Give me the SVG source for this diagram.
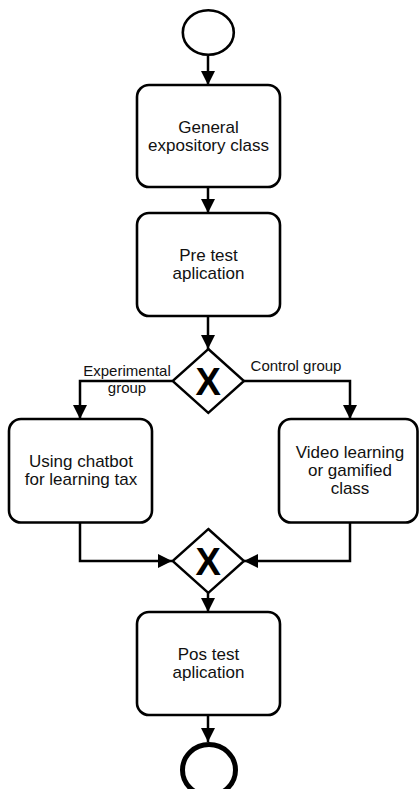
<svg xmlns="http://www.w3.org/2000/svg" width="419" height="789" viewBox="0 0 419 789">
<style>
.box{fill:#fff;stroke:#000;stroke-width:2.6}
.ev{fill:#fff;stroke:#000;stroke-width:2.6}
.end{fill:#fff;stroke:#000;stroke-width:5}
.gw{fill:#fff;stroke:#000;stroke-width:2.4}
.t{font-family:"Liberation Sans",Arial,sans-serif;font-size:17px;fill:#111;text-anchor:middle}
.lbl{font-family:"Liberation Sans",Arial,sans-serif;font-size:15px;fill:#111;text-anchor:middle}
.x{font-family:"Liberation Sans",Arial,sans-serif;font-size:38px;font-weight:bold;fill:#000;text-anchor:middle}
.c{fill:none;stroke:#000;stroke-width:2.5;marker-end:url(#ah)}
</style>
<defs>
<marker id="ah" markerUnits="userSpaceOnUse" markerWidth="14" markerHeight="14" viewBox="0 0 14 14" refX="14" refY="7" orient="auto">
<path d="M0,0 L14,7 L0,14 Z" fill="#000"/>
</marker>
</defs>
<g id="connectors">
<path class="c" d="M208,56 V85"/>
<path class="c" d="M208,187 V213"/>
<path class="c" d="M208,316 V349"/>
<path class="c" d="M172,381 H80 V419"/>
<path class="c" d="M244,381 H350 V419"/>
<path class="c" d="M80,523 V561 H172"/>
<path class="c" d="M350,523 V561 H244"/>
<path class="c" d="M208,593 V612"/>
<path class="c" d="M208,715 V742"/>
<text class="lbl" x="127" y="376">Experimental</text>
<text class="lbl" x="127" y="393">group</text>
<text class="lbl" x="296" y="371">Control group</text>
</g>
<g id="start"><ellipse class="ev" cx="208.3" cy="32.5" rx="25.5" ry="22.3"/></g>
<g id="general">
<rect class="box" x="137" y="85" width="143" height="102" rx="12"/>
<text class="t" x="208.5" y="133">General</text>
<text class="t" x="208.5" y="151">expository class</text>
</g>
<g id="pretest">
<rect class="box" x="137" y="213" width="143" height="103" rx="12"/>
<text class="t" x="208.5" y="261">Pre test</text>
<text class="t" x="208.5" y="279">aplication</text>
</g>
<g id="split">
<path class="gw" d="M208.3,349 L244,381 L208.3,413 L172.6,381 Z"/>
<text class="x" x="208.3" y="395">X</text>
</g>
<g id="chatbot">
<rect class="box" x="9" y="419" width="143" height="103.5" rx="12"/>
<text class="t" x="81" y="467">Using chatbot</text>
<text class="t" x="81" y="485">for learning tax</text>
</g>
<g id="video">
<rect class="box" x="279" y="419" width="138.5" height="103.5" rx="12"/>
<text class="t" x="350" y="458">Video learning</text>
<text class="t" x="350" y="476">or gamified</text>
<text class="t" x="350" y="494">class</text>
</g>
<g id="merge">
<path class="gw" d="M208.3,529 L244,561 L208.3,593 L172.6,561 Z"/>
<text class="x" x="208.3" y="575">X</text>
</g>
<g id="postest">
<rect class="box" x="137" y="612" width="143" height="103" rx="12"/>
<text class="t" x="208.5" y="660">Pos test</text>
<text class="t" x="208.5" y="678">aplication</text>
</g>
<g id="end"><ellipse class="end" cx="209" cy="770" rx="26.5" ry="25.5"/></g>
</svg>
